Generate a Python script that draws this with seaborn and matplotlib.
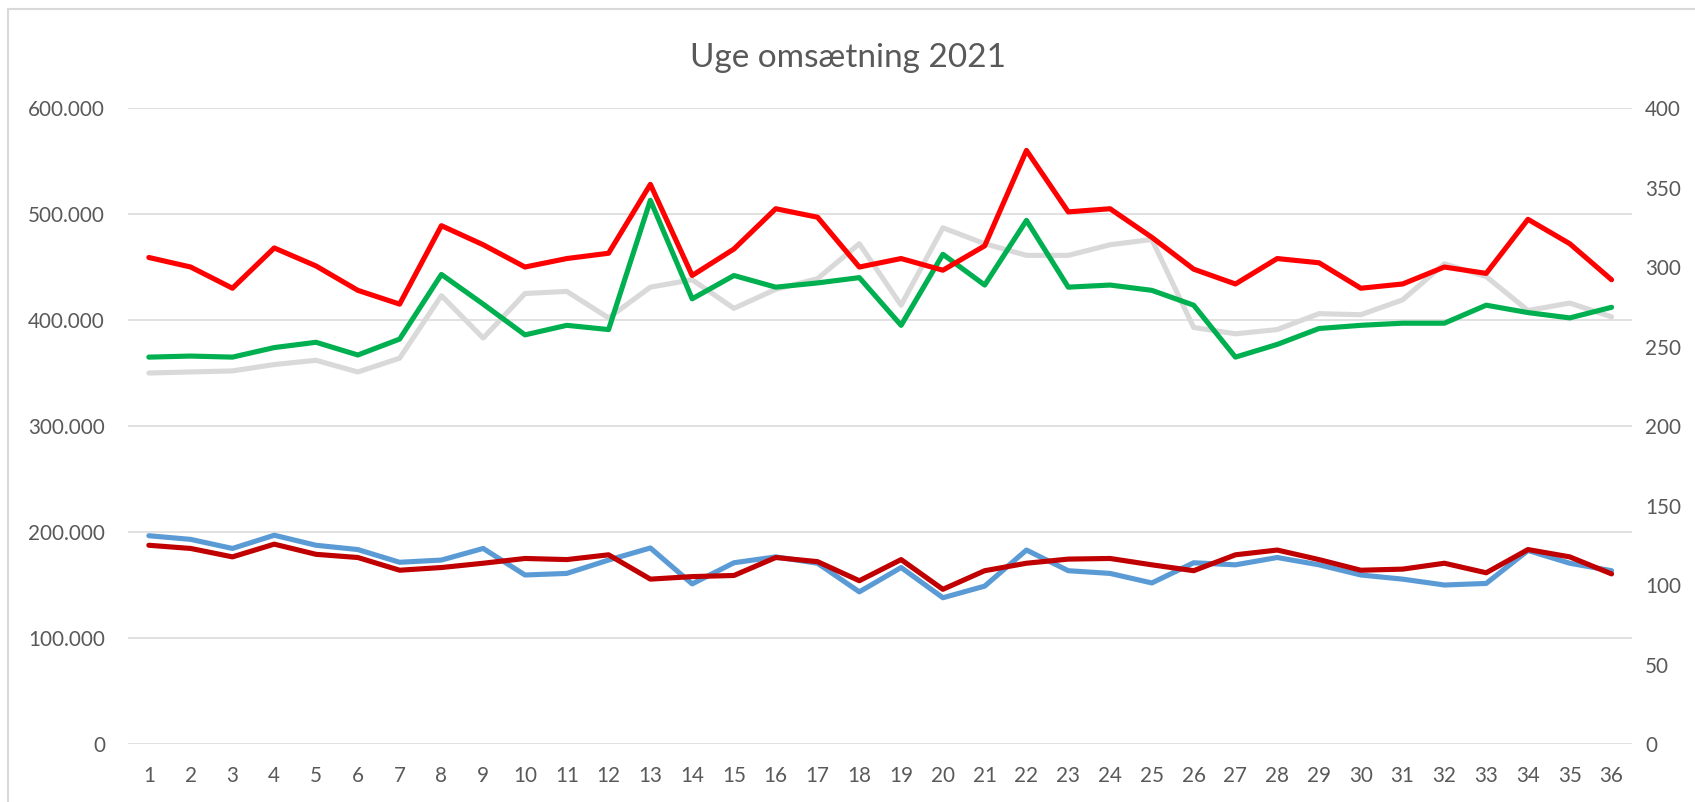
"""
Uge omsaetning 2021 - weekly revenue chart (two y axes)
"""

import pandas as pd
import matplotlib
matplotlib.use("Agg")
import matplotlib.pyplot as plt
from matplotlib.ticker import FuncFormatter, MultipleLocator
from matplotlib.patches import Rectangle
import seaborn as sns

# Data
weeks = list(range(1, 37))

# left axis (kr, thousands)
red_series = [459, 450, 430, 468, 451, 428, 415, 489, 471, 450, 458, 463, 528, 442, 467, 505, 497, 450,
              458, 447, 470, 560, 502, 505, 478, 448, 434, 458, 454, 430, 434, 450, 444, 495, 472, 438]
green_series = [365, 366, 365, 374, 379, 367, 382, 443, 415, 386, 395, 391, 513, 420, 442, 431, 435, 440,
                395, 462, 433, 494, 431, 433, 428, 414, 365, 377, 392, 395, 397, 397, 414, 407, 402, 412]
grey_series = [350, 351, 352, 358, 362, 351, 364, 423, 383, 425, 427, 402, 431, 438, 411, 429, 439, 472,
               414, 487, 472, 461, 461, 471, 476, 393, 387, 391, 406, 405, 419, 453, 441, 409, 416, 403]

# right axis
blue_series = [131, 128.7, 123, 131.3, 125, 122.3, 114.3, 115.7, 123, 106.3, 107.3, 115.7, 123.3, 100.7,
               114, 117.7, 113.7, 95.7, 111, 92, 99.3, 122, 109, 107.3, 101.3, 114, 112.7, 117.3, 112.7,
               106.3, 103.7, 100, 101, 121.7, 113.7, 109]
darkred_series = [125, 123, 117.7, 125.7, 119.3, 117.3, 109.3, 111, 113.7, 116.7, 116, 119, 103.7, 105.3,
                  106, 117.3, 114.7, 102.7, 116, 97.3, 109, 113.7, 116.3, 116.7, 112.7, 109, 119, 122, 116,
                  109.3, 110, 113.7, 107.7, 122.3, 117.7, 107]

TITLE = "Uge omsætning 2021"
TEXT_COLOR = "#595959"
GRID_COLOR = "#D9D9D9"


def build_frames():
    left = pd.DataFrame({
        "uge": weeks * 3,
        "value": [v * 1000 for v in grey_series + green_series + red_series],
        "serie": ["grey"] * 36 + ["green"] * 36 + ["red"] * 36,
    })
    right = pd.DataFrame({
        "uge": weeks * 2,
        "value": blue_series + darkred_series,
        "serie": ["blue"] * 36 + ["darkred"] * 36,
    })
    return left, right


def dot_thousands(v, pos):
    return f"{int(round(v)):,}".replace(",", ".")


def main():
    sns.set_theme(style="white")
    plt.rcParams["font.family"] = ["Lato", "DejaVu Sans"]

    left, right = build_frames()

    fig = plt.figure(figsize=(16.95, 8.02), dpi=100)
    ax = fig.add_axes([0.0755, 0.0723, 0.8876, 0.793])
    ax2 = ax.twinx()

    palette_left = {"grey": "#D9D9D9", "green": "#00B050", "red": "#FF0000"}
    palette_right = {"blue": "#5B9BD5", "darkred": "#C00000"}

    sns.lineplot(data=left, x="uge", y="value", hue="serie", palette=palette_left,
                 linewidth=3.7, legend=False, ax=ax, zorder=3)
    sns.lineplot(data=right, x="uge", y="value", hue="serie", palette=palette_right,
                 linewidth=3.7, legend=False, ax=ax2, zorder=3)

    # axes scales
    ax.set_xlim(0.5, 36.5)
    ax.set_ylim(0, 600000)
    ax2.set_ylim(0, 400)
    ax.yaxis.set_major_locator(MultipleLocator(100000))
    ax.yaxis.set_major_formatter(FuncFormatter(dot_thousands))
    ax2.yaxis.set_major_locator(MultipleLocator(50))
    ax.set_xticks(weeks)
    ax.set_xticklabels([str(w) for w in weeks])

    ax.grid(axis="y", color=GRID_COLOR, linewidth=1.1, zorder=0)
    ax.set_axisbelow(True)
    for a in (ax, ax2):
        for s in a.spines.values():
            s.set_visible(False)
        a.set_xlabel("")
        a.set_ylabel("")
        a.tick_params(length=0, labelsize=14.9, labelcolor=TEXT_COLOR)
    ax.tick_params(axis="y", pad=16.5)
    ax.tick_params(axis="x", pad=16)
    ax2.tick_params(axis="y", pad=9)

    fig.text(0.5, 0.928, TITLE, ha="center", va="center", fontsize=24, color=TEXT_COLOR)

    # chart area border
    fig.patches.append(Rectangle((8 / 1695, -0.05), 1.2, 1.05 - 9 / 802,
                                 transform=fig.transFigure, fill=False,
                                 edgecolor=GRID_COLOR, linewidth=1.5))

    fig.savefig("out.png", dpi=100)


if __name__ == "__main__":
    main()
